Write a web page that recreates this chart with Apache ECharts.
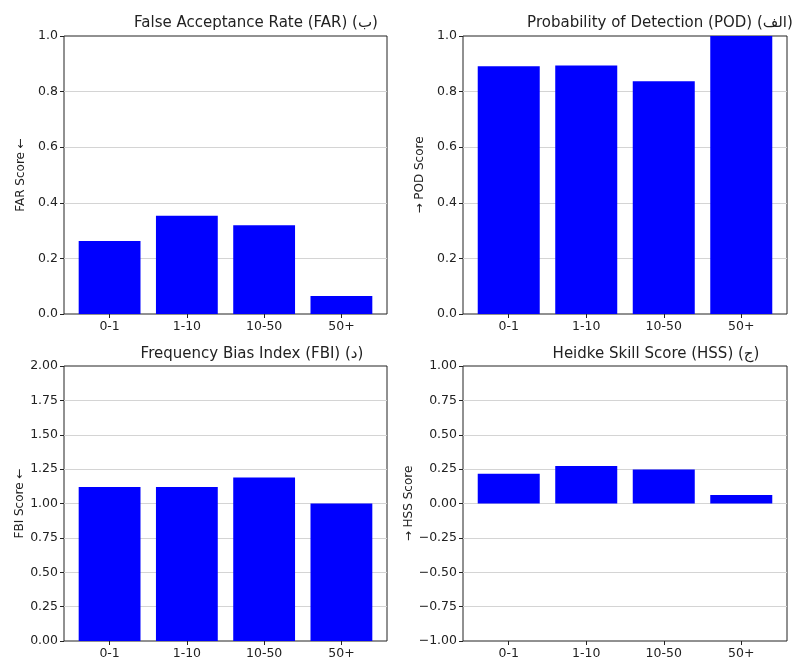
<!DOCTYPE html>
<html>
<head>
<meta charset="utf-8">
<script src="https://cdn.jsdelivr.net/npm/echarts@6/dist/echarts.min.js"></script>
<style>
html,body{margin:0;padding:0;background:#fff;}
#chart{width:792px;height:660px;}
</style>
</head>
<body>
<div id="chart"></div>
<script>
// ---- data ----
const categories = ['0-1', '1-10', '10-50', '50+'];
const farValues = [0.263, 0.353, 0.319, 0.065];
const podValues = [0.891, 0.894, 0.837, 1.0];
const fbiValues = [1.12, 1.12, 1.19, 1.0];
const hssValues = [0.217, 0.272, 0.248, 0.062];

const titles = [
  'False Acceptance Rate (FAR) (ب)',
  'Probability of Detection (POD) (الف)',
  'Frequency Bias Index (FBI) (د)',
  'Heidke Skill Score (HSS) (ج)'
];
const yNames = ['FAR Score ←', '→ POD Score', 'FBI Score ←', '→ HSS Score'];
const yRanges = [[0, 1, 0.2, 1], [0, 1, 0.2, 1], [0, 2, 0.25, 2], [-1, 1, 0.25, 2]]; // min, max, interval, decimals

// ---- layout ----
const FONT = 'DejaVu Sans';
const panels = [
  {left: 64, top: 36, width: 323, height: 278, titleX: 256, titleY: 16},
  {left: 463, top: 36, width: 324, height: 278, titleX: 660, titleY: 16},
  {left: 64, top: 366, width: 323, height: 277, titleX: 252, titleY: 347},
  {left: 463, top: 366, width: 324, height: 277, titleX: 656, titleY: 347}
];
const XMIN = -0.59, XMAX = 3.59;
const seriesValues = [farValues, podValues, fbiValues, hssValues];

const chart = echarts.init(document.getElementById('chart'), null, {renderer: 'canvas'});

const grid = [], xAxis = [], yAxis = [], series = [], title = [];
panels.forEach((p, i) => {
  grid.push({left: p.left, top: p.top, width: p.width, height: p.height,
    show: true, borderColor: '#222', borderWidth: 1, backgroundColor: 'transparent', containLabel: false});
  xAxis.push({
    type: 'value', gridIndex: i, min: XMIN, max: XMAX, position: 'bottom',
    axisLine: {show: false, onZero: false},
    splitLine: {show: false},
    axisTick: {show: true, customValues: [0, 1, 2, 3], length: 4, lineStyle: {color: '#222'}},
    axisLabel: {customValues: [0, 1, 2, 3], color: '#222', fontFamily: FONT, fontSize: 12.5, margin: 6,
      formatter: v => categories[Math.round(v)] || ''}
  });
  const r = yRanges[i];
  yAxis.push({
    type: 'value', gridIndex: i, min: r[0], max: r[1], interval: r[2], position: 'left',
    name: yNames[i], nameLocation: 'middle', nameGap: 37, nameRotate: 90,
    nameTextStyle: {fontFamily: FONT, fontSize: 12, color: '#222'},
    axisLine: {show: false, onZero: false},
    axisTick: {show: true, length: 4, lineStyle: {color: '#222'}},
    splitLine: {show: true, showMinLine: false, showMaxLine: false, lineStyle: {color: '#d4d4d4', width: 1}},
    axisLabel: {color: '#222', fontFamily: FONT, fontSize: 12.5, margin: 6,
      formatter: v => v.toFixed(r[3]).replace('-', '−')}
  });
  const unit = p.width / (XMAX - XMIN);
  series.push({
    type: 'bar', xAxisIndex: i, yAxisIndex: i,
    barWidth: 0.8 * unit,
    itemStyle: {color: '#0000ff'},
    data: categories.map((c, k) => [k, seriesValues[i][k]])
  });
  title.push({text: titles[i], left: p.titleX, top: p.titleY, textAlign: 'center', padding: 0,
    textStyle: {fontFamily: FONT, fontSize: 15, fontWeight: 'normal', color: '#222'}});
});

chart.setOption({animation: false, backgroundColor: '#fff', title, grid, xAxis, yAxis, series});
</script>
</body>
</html>
